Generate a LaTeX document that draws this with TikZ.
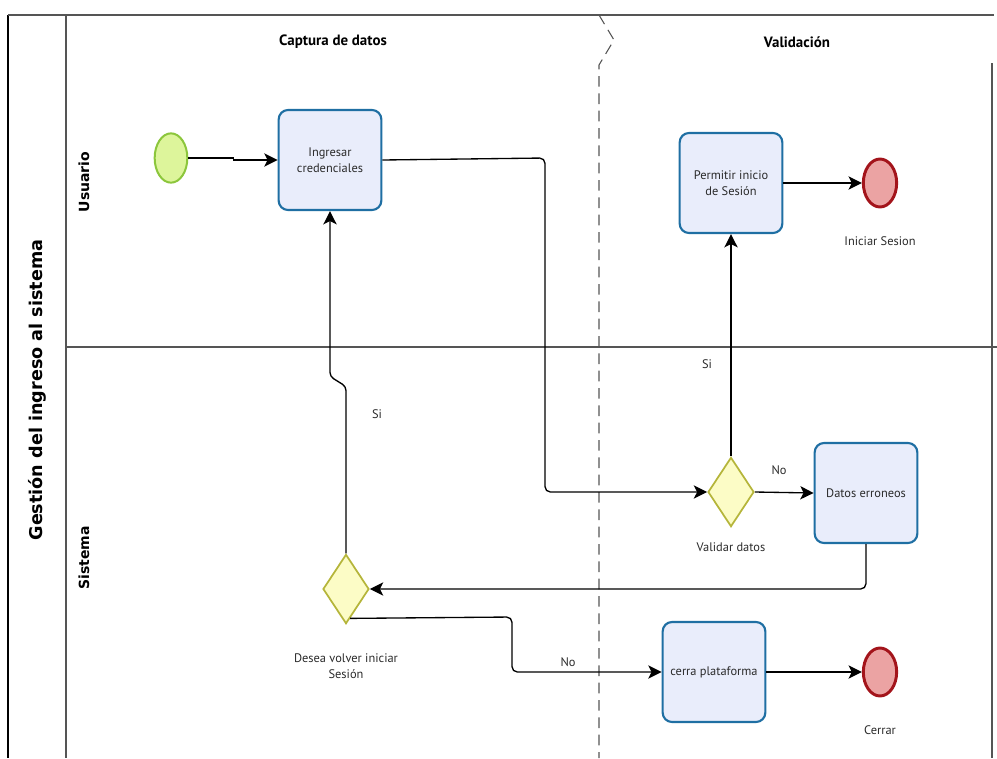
\documentclass[tikz,border=0pt]{standalone}
\usepackage{fontspec}
\setmainfont{PT Sans}
\newfontfamily\titlefont{DejaVu Sans}
\usetikzlibrary{shapes.geometric,arrows.meta}
\definecolor{taskborder}{HTML}{1F6FA3}
\definecolor{taskfill}{HTML}{E9EDFB}
\definecolor{gwborder}{HTML}{B5B53A}
\definecolor{gwfill}{HTML}{FCFCC6}
\definecolor{stborder}{HTML}{8CC63C}
\definecolor{stfill}{HTML}{DDF59B}
\definecolor{endborder}{HTML}{A3141B}
\definecolor{endfill}{HTML}{EBA3A3}
\definecolor{lanegray}{HTML}{555555}
\definecolor{txt}{HTML}{2A2A2A}
\tikzset{
  task/.style={draw=taskborder, fill=taskfill, line width=1.6pt, rounded corners=7pt,
    minimum width=77pt, minimum height=75pt, align=center, font=\fontsize{9.3}{12}\selectfont, text=txt},
  gateway/.style={diamond, draw=gwborder, fill=gwfill, line width=1.3pt, inner sep=0pt,
    minimum width=34.5pt, minimum height=52pt},
  startev/.style={ellipse, draw=stborder, fill=stfill, line width=1.5pt, inner sep=0pt,
    minimum width=24.5pt, minimum height=37pt},
  endev/.style={ellipse, draw=endborder, fill=endfill, line width=2.2pt, inner sep=0pt,
    minimum width=25pt, minimum height=36pt},
  lbl/.style={font=\fontsize{9.3}{12}\selectfont, text=txt, align=center},
  flow/.style={draw=black, line width=1pt, -{Stealth[length=10pt,width=10pt,inset=2.5pt]}},
  lanel/.style={draw=lanegray, line width=0.8pt},
  hdr/.style={font=\bfseries\fontsize{11.2}{13}\selectfont, text=black},
  lanetitle/.style={font=\titlefont\bfseries\fontsize{10.5}{12}\selectfont, rotate=90},
}
\begin{document}
\begin{tikzpicture}[x=0.75pt,y=-0.75pt]
\useasboundingbox (0,0) rectangle (997,758);
% pool frame
\draw[black, line width=1.4pt] (8,15) -- (8,758);
\draw[lanegray, line width=1.4pt] (8,15) -- (994,15);
\draw[lanegray, line width=1pt] (992,63) -- (992,758);
\draw[lanel] (66,15) -- (66,758);
\draw[lanel] (66,347) -- (997,347);
\draw[lanegray, line width=0.8pt, dash pattern=on 8pt off 5pt] (599,15) -- (614,40) -- (599,65) -- (599,758);
% titles
\node[font=\titlefont\bfseries\fontsize{13.2}{15}\selectfont, rotate=90] (pooltitle) at (37,390) {Gestión del ingreso al sistema};
\node[lanetitle] (laneu) at (84,182) {Usuario};
\node[lanetitle] (lanes) at (84,558) {Sistema};
\node[hdr] (hcap) at (333,42) {Captura de datos};
\node[hdr] (hval) at (797,42) {Validación};
% nodes
\node[startev] (start) at (171,158) {};
\node[task] (ingresar) at (330,160) {Ingresar\\credenciales};
\node[task] (permitir) at (731,183) {Permitir inicio\\de Sesión};
\node[endev] (endok) at (880,183) {};
\node[lbl] (endoklbl) at (880,241) {Iniciar Sesion};
\node[gateway] (validar) at (731,492) {};
\node[lbl] (validarlbl) at (731,547) {Validar datos};
\node[task] (datos) at (866,493) {Datos erroneos};
\node[gateway] (desea) at (346,589) {};
\node[lbl] (desealbl) at (346,666) {Desea volver iniciar\\Sesión};
\node[task] (cerra) at (714,672) {cerra plataforma};
\node[endev] (endc) at (880,672) {};
\node[lbl] (endclbl) at (880,730) {Cerrar};
% connectors
\draw[flow] (start.east) -- ++(45,0) |- (ingresar.west);
\draw[flow, rounded corners=4pt] (ingresar.east) -- (545,158) -- (545,492) -- (validar.west);
\draw[flow] (validar.north) -- (permitir.south);
\node[lbl] (si1) at (707,364) {Si};
\draw[flow] (permitir.east) -- (endok.west);
\draw[flow] (validar.east) -- (datos.west);
\node[lbl] (no1) at (779,470) {No};
\draw[flow, rounded corners=4pt] (datos.south) |- (desea.east);
\draw[flow, rounded corners=3pt] (desea.north) -- ++(0,-167) -- ++(-16,-10) -- (ingresar.south);
\node[lbl] (si2) at (377,414) {Si};
\draw[flow, rounded corners=4pt] (desea.-82) -- (512,617) -- (512,672) -- (cerra.west);
\node[lbl] (no2) at (568,662) {No};
\draw[flow] (cerra.east) -- (endc.west);
\end{tikzpicture}
\end{document}
